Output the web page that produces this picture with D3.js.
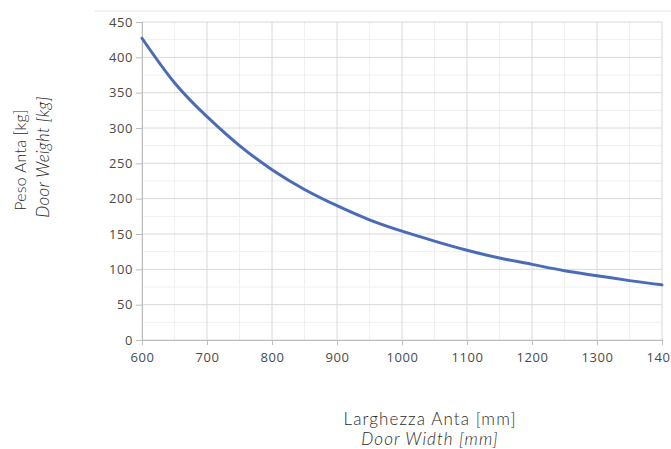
<!DOCTYPE html>
<html>
<head>
<meta charset="utf-8">
<script src="https://cdn.jsdelivr.net/npm/d3@7"></script>
<style>
  body { margin: 0; background: #fff; }
  .tick text { font-family: "Open Sans", sans-serif; }
</style>
</head>
<body>
<div id="svgWrapper"></div>
<script>
// door width [mm] vs door weight [kg]
var widths  = [600, 650, 700, 750, 800, 850, 900, 950, 1000, 1050, 1100, 1150, 1200, 1250, 1300, 1350, 1400];
var weights = [427, 364, 316, 275, 241, 213, 190, 170, 154, 140, 127, 116, 107, 98, 91, 84, 78];
var xTicks = [600, 700, 800, 900, 1000, 1100, 1200, 1300, 1400];
var yTicks = [0, 50, 100, 150, 200, 250, 300, 350, 400, 450];

var fullWidth = 671, fullHeight = 449;
var xPadding = 142, yPadding = 22;
var chartWidth = 520, chartHeight = 318;

var svg = d3.select("#svgWrapper")
  .append("svg")
  .attr("width", fullWidth)
  .attr("height", fullHeight);

var xScale = d3.scaleLinear().domain([600, 1400]).range([xPadding, xPadding + chartWidth]);
var yScale = d3.scaleLinear().domain([0, 450]).range([yPadding + chartHeight, yPadding]);

// faint frame line on top
svg.append("line")
  .attr("x1", 95).attr("x2", fullWidth)
  .attr("y1", 11).attr("y2", 11)
  .attr("stroke", "#ececec").attr("stroke-width", 1.5);

// minor grid
var grid = svg.append("g");
d3.range(650, 1400, 100).forEach(function(v) {
  grid.append("line")
    .attr("x1", xScale(v)).attr("x2", xScale(v))
    .attr("y1", yPadding).attr("y2", yPadding + chartHeight)
    .attr("stroke", "#efefef");
});
d3.range(25, 450, 50).forEach(function(v) {
  grid.append("line")
    .attr("x1", xPadding).attr("x2", xPadding + chartWidth)
    .attr("y1", yScale(v)).attr("y2", yScale(v))
    .attr("stroke", "#efefef");
});
// major grid
xTicks.forEach(function(v) {
  grid.append("line")
    .attr("x1", xScale(v)).attr("x2", xScale(v))
    .attr("y1", yPadding).attr("y2", yPadding + chartHeight)
    .attr("stroke", "#d8d8d8");
});
yTicks.forEach(function(v) {
  grid.append("line")
    .attr("x1", xPadding).attr("x2", xPadding + chartWidth)
    .attr("y1", yScale(v)).attr("y2", yScale(v))
    .attr("stroke", "#d8d8d8");
});

// axes
var xAxis = svg.append("g")
  .attr("transform", "translate(0," + (yPadding + chartHeight) + ")")
  .call(d3.axisBottom(xScale).tickValues(xTicks).tickSize(5).tickPadding(8).tickFormat(d3.format("d")));
var yAxis = svg.append("g")
  .attr("transform", "translate(" + xPadding + ",0)")
  .call(d3.axisLeft(yScale).tickValues(yTicks).tickSize(6).tickPadding(3));

[xAxis, yAxis].forEach(function(a) {
  a.select(".domain").attr("stroke", "#bdbdbd");
  a.selectAll(".tick line").attr("stroke", "#bdbdbd");
  a.selectAll(".tick text").attr("fill", "#4a4a4a")
    .style("font-size", "13px").style("letter-spacing", "0.6px");
});

// curve
var pts = widths.map(function(w, i) { return [w, weights[i]]; });
var line = d3.line()
  .x(function(d) { return xScale(d[0]); })
  .y(function(d) { return yScale(d[1]); })
  .curve(d3.curveNatural);

svg.append("path")
  .datum(pts)
  .attr("d", line)
  .attr("fill", "none")
  .attr("stroke", "#4a6cb6")
  .attr("stroke-width", 3)
  .attr("stroke-linecap", "round");

// axis titles
var titleFont = "Lato, sans-serif";
svg.append("text")
  .attr("x", 430).attr("y", 425)
  .style("text-anchor", "middle").style("font-family", titleFont)
  .style("font-size", "17px").style("font-weight", 300).style("letter-spacing", "1.1px").style("fill", "#2a2a2a")
  .text("Larghezza Anta [mm]");
svg.append("text")
  .attr("x", 430).attr("y", 445)
  .style("text-anchor", "middle").style("font-family", titleFont)
  .style("font-size", "17px").style("font-weight", 300).style("letter-spacing", "1.1px").style("font-style", "italic").style("fill", "#2a2a2a")
  .text("Door Width [mm]");

svg.append("text")
  .attr("transform", "translate(26, 160) rotate(270)")
  .style("text-anchor", "middle").style("font-family", titleFont)
  .style("font-size", "16px").style("font-weight", 300).style("letter-spacing", "0.2px").style("fill", "#2a2a2a")
  .text("Peso Anta [kg]");
svg.append("text")
  .attr("transform", "translate(49, 157) rotate(270)")
  .style("text-anchor", "middle").style("font-family", titleFont)
  .style("font-size", "17px").style("font-weight", 300).style("letter-spacing", "0.3px").style("font-style", "italic").style("fill", "#2a2a2a")
  .text("Door Weight [kg]");
</script>
</body>
</html>
